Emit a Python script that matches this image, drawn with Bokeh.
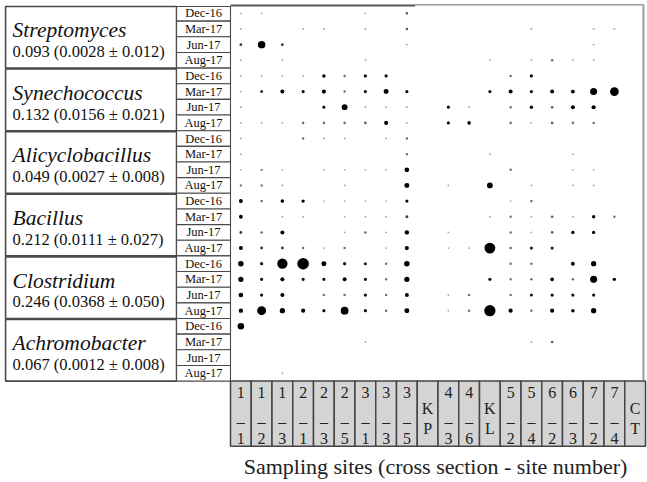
import numpy as np
from bokeh.plotting import figure
from bokeh.models import ColumnDataSource, Range1d
from bokeh.core.properties import value
from bokeh.embed import file_html
from bokeh.resources import INLINE

# ---------------- data ----------------
sites = ["1-1", "1-2", "1-3", "2-1", "2-3", "2-5", "3-1", "3-3", "3-5", "KP",
         "4-3", "4-6", "KL", "5-2", "5-4", "6-2", "6-3", "7-2", "7-4", "CT"]
dates = ["Dec-16", "Mar-17", "Jun-17", "Aug-17"]
genera = ["Streptomyces", "Synechococcus", "Alicyclobacillus",
          "Bacillus", "Clostridium", "Achromobacter"]
genus_stats = ["0.093 (0.0028 \u00b1 0.012)", "0.132 (0.0156 \u00b1 0.021)",
               "0.049 (0.0027 \u00b1 0.008)", "0.212 (0.0111 \u00b1 0.027)",
               "0.246 (0.0368 \u00b1 0.050)", "0.067 (0.0012 \u00b1 0.008)"]

# relative abundance per date (rows) and site (columns), read from the bubbles
streptomyces = [
    [.0015, .0015, 0, 0, 0, 0, .0015, 0, .006, 0, 0, 0, 0, 0, 0, 0, 0, 0, 0, 0],
    [.0015, 0, 0, .0015, .0015, 0, .0015, 0, .006, 0, 0, 0, 0, 0, .0015, 0, 0, .0015, .0015, 0],
    [.008, .093, .008, 0, 0, 0, 0, 0, .0015, 0, 0, 0, 0, 0, 0, 0, 0, .0015, 0, 0],
    [.0015, 0, .0015, 0, 0, 0, .0015, 0, 0, 0, 0, 0, .0015, 0, .0015, .005, .0015, .0015, 0, 0],
]
synechococcus = [
    [.0015, .0015, .0015, .0015, .013, .005, .011, .011, 0, 0, 0, 0, 0, .005, .011, 0, 0, 0, 0, 0],
    [.0015, .009, .02, .011, .022, .005, .011, .035, .011, 0, 0, 0, .011, .02, .011, .02, .018, .08, .132, 0],
    [.0015, 0, 0, 0, .011, .05, .0015, .0015, .0015, 0, .011, .0015, 0, .005, .012, .006, .02, .022, 0, 0],
    [.0015, .0015, .0015, .005, .005, .005, .006, .02, .0015, 0, .011, .014, 0, .005, .0015, .006, .005, .005, 0, 0],
]
alicyclobacillus = [
    [.0015, 0, 0, .005, .0015, .0015, 0, .0015, .005, 0, 0, 0, 0, 0, 0, 0, 0, 0, 0, 0],
    [.0015, 0, 0, 0, 0, 0, 0, 0, .005, 0, 0, 0, .0015, 0, 0, 0, .0015, 0, 0, 0],
    [.0015, .004, .0015, 0, .0015, .0015, .0015, .0015, .03, 0, 0, 0, 0, .005, 0, 0, .0015, .0015, 0, 0],
    [.004, .004, .0015, 0, 0, .0015, 0, 0, .035, 0, .0015, 0, .049, 0, .0015, 0, .0015, .0015, 0, 0],
]
bacillus = [
    [.02, .005, .015, .012, .0015, .0015, .0015, .0015, .011, 0, 0, 0, 0, .0015, .005, 0, 0, 0, 0, 0],
    [.018, 0, .0015, .0015, 0, .0015, .0015, .0015, .008, 0, 0, 0, .0015, .005, .0015, .006, .0015, .012, .005, 0],
    [.008, .005, .02, 0, 0, .0015, .005, .0015, .025, 0, .0015, 0, 0, .005, .0015, .006, .012, .012, 0, 0],
    [.02, .008, .008, .005, .0015, .005, 0, .0015, .022, 0, .0015, .0015, .212, .005, .01, .01, 0, 0, 0, 0],
]
clostridium = [
    [.045, .011, .19, .246, .035, .011, .01, .005, .045, 0, 0, 0, 0, .005, .005, 0, .018, .04, 0, 0],
    [.04, .011, .02, .011, .011, .02, .011, .005, .04, 0, 0, 0, .011, .005, .005, .016, .005, .08, .012, 0],
    [.03, .011, .02, 0, .005, .005, .011, .005, .02, 0, .0015, .005, 0, .005, .01, .011, .011, .011, 0, 0],
    [.025, .14, .04, .022, .011, .1, .011, .005, .035, 0, .0015, .005, .23, .022, .005, .022, .014, .04, 0, 0],
]
achromobacter = [
    [.067, 0, 0, 0, 0, 0, 0, 0, 0, 0, 0, 0, 0, 0, 0, 0, 0, 0, 0, 0],
    [0, 0, 0, 0, 0, 0, .0015, 0, 0, 0, 0, 0, 0, 0, .0015, .006, 0, 0, 0, 0],
    [0, 0, 0, 0, 0, 0, 0, 0, 0, 0, 0, 0, 0, 0, 0, 0, 0, 0, 0, 0],
    [0, 0, .0015, 0, 0, 0, 0, 0, 0, 0, 0, 0, 0, 0, 0, 0, 0, 0, 0, 0],
]
axis_title = "Sampling sites (cross section - site number)"

# ---------------- figure ----------------
SERIF = value("Liberation Serif")
p = figure(width=647, height=482, x_range=Range1d(-11.084, 20.096), y_range=Range1d(30.48, -0.32),
           output_backend="svg", toolbar_location=None, min_border=0,
           x_axis_location=None, y_axis_location=None)
p.grid.visible = False
p.outline_line_color = None
p.background_fill_color = "white"

n_g = len(genera)
n_d = len(dates)
n_s = len(sites)

# genus boxes
gi = np.arange(n_g)
p.quad(left=-10.84, right=-2.6, top=gi * n_d + 0.06, bottom=gi * n_d + n_d,
       fill_color="white", line_color="#4a4a4a", line_width=1.6)
p.text(x=[-10.5] * n_g, y=gi * n_d + 1.58, text=genera, text_font=SERIF,
       text_font_style="italic", text_font_size="21.5px", text_color="#111111",
       text_baseline="middle", text_align="left")
p.text(x=[-10.5] * n_g, y=gi * n_d + 2.94, text=genus_stats, text_font=SERIF,
       text_font_size="16.5px", text_color="#111111",
       text_baseline="middle", text_align="left")

# date boxes
ri = np.arange(n_g * n_d)
p.quad(left=-2.6, right=0, top=np.maximum(ri, 0.06), bottom=ri + 1, fill_color="white",
       line_color="#4a4a4a", line_width=1.1)
p.text(x=[-1.3] * len(ri), y=ri + 0.5, text=dates * n_g, text_font=SERIF,
       text_font_size="12.5px", text_color="#111111",
       text_baseline="middle", text_align="center")

# plot frame (top and right)
p.segment(x0=[0, 8.9], y0=[0, -0.05], x1=[8.9, 19.9], y1=[0, -0.05],
          line_color=["#555555", "#9a9a9a"], line_width=[2.2, 1.6])
p.segment(x0=[19.9], y0=[-0.05], x1=[19.9], y1=[24], line_color="#9a9a9a", line_width=2)

# bubbles
allrows = streptomyces + synechococcus + alicyclobacillus + bacillus + clostridium + achromobacter
M = np.array(allrows, dtype=float)
r_idx, c_idx = np.nonzero(M)
vals = M[r_idx, c_idx]
sizes = 21.3 * np.sqrt(vals) + 1.0
levels = np.minimum(1.0, vals / 0.012)
greys = np.round(190 * (1 - levels)).astype(int)
colors = ["#%02x%02x%02x" % (g, g, g) for g in greys]
src = ColumnDataSource(dict(x=c_idx + 0.5, y=r_idx + 0.5, size=sizes, color=colors))
p.scatter("x", "y", size="size", fill_color="color", line_color=None, source=src)

# site boxes
si = np.arange(n_s)
p.quad(left=si, right=si + 1, top=24, bottom=28.17, fill_color="#d4d4d4",
       line_color="#454545", line_width=1.5)
tx, ty, tt = [], [], []
for i, s in enumerate(sites):
    if "-" in s:
        a, b = s.split("-")
        tx += [i + 0.5] * 3
        ty += [24.76, 26.58, 27.64]
        tt += [a, "\u2013", b]
    else:
        tx += [i + 0.5] * 2
        ty += [25.72, 27.0]
        tt += [s[0], s[1]]
p.text(x=tx, y=ty, text=tt, text_font=SERIF, text_font_size="16px",
       text_color="#222222", text_baseline="middle", text_align="center")

# axis title
p.text(x=[9.88], y=[29.43], text=[axis_title], text_font=SERIF, text_font_size="22px",
       text_color="#222222", text_baseline="middle", text_align="center")

open("out.html", "w").write(file_html(p, INLINE))
